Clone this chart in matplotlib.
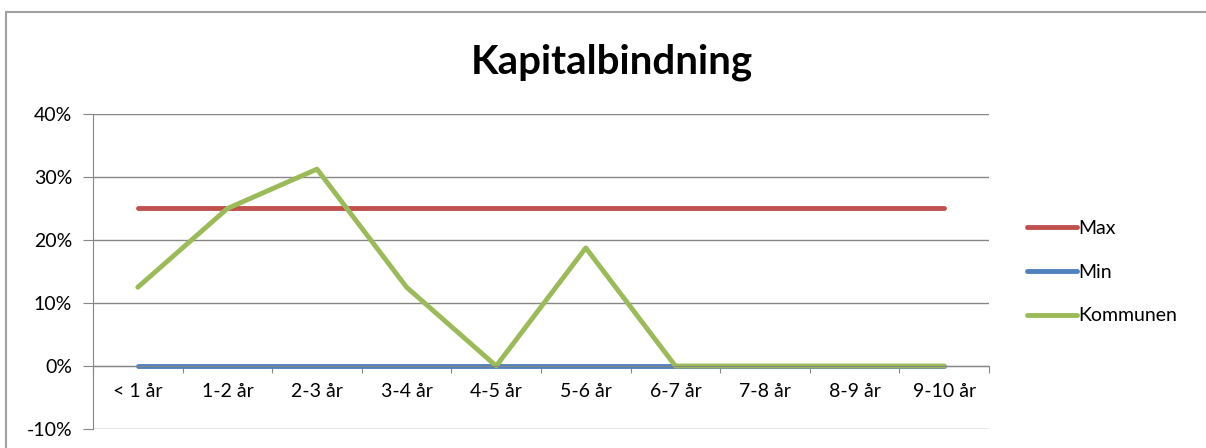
import matplotlib.pyplot as plt
from matplotlib.patches import Rectangle
from matplotlib.ticker import FixedLocator, PercentFormatter

categories = ["< 1 år", "1-2 år", "2-3 år", "3-4 år", "4-5 år",
              "5-6 år", "6-7 år", "7-8 år", "8-9 år", "9-10 år"]
max_values = [25, 25, 25, 25, 25, 25, 25, 25, 25, 25]
min_values = [0, 0, 0, 0, 0, 0, 0, 0, 0, 0]
kommunen_values = [12.5, 25, 31.25, 12.5, 0, 18.75, 0, 0, 0, 0]
y_ticks = [-10, 0, 10, 20, 30, 40]

plt.rcParams['font.family'] = ['Lato', 'DejaVu Sans']
plt.rcParams['axes.unicode_minus'] = False
GRID = "#868686"

fig = plt.figure(figsize=(12.06, 4.48), dpi=100)

# outer chart border (Excel chart area)
fig.patches.append(Rectangle((6 / 1206, -0.1), 1.2, 1 - 12 / 448 + 0.1,
                             transform=fig.transFigure, fill=False,
                             edgecolor="#a0a0a0", linewidth=1.5))

ax = fig.add_axes([93 / 1206, 1 - 429 / 448, 896 / 1206, 315 / 448])

x = [i + 0.5 for i in range(len(categories))]
ax.plot(x, max_values, color="#C0504D", lw=3.5, solid_capstyle="round", label="Max")
ax.plot(x, min_values, color="#4F81BD", lw=3.5, solid_capstyle="round", label="Min")
ax.plot(x, kommunen_values, color="#9BBB59", lw=3.5, solid_capstyle="round",
        solid_joinstyle="round", label="Kommunen")

ax.set_xlim(0, len(categories))
ax.set_ylim(-10, 40)
ax.set_yticks(y_ticks)
ax.yaxis.set_major_formatter(PercentFormatter(decimals=0))
ax.grid(axis="y", color=GRID, linewidth=1)
ax.set_axisbelow(True)

ax.spines["top"].set_visible(False)
ax.spines["right"].set_visible(False)
ax.spines["left"].set_color(GRID)
ax.spines["bottom"].set_position(("data", 0))
ax.spines["bottom"].set_color(GRID)

ax.xaxis.set_major_locator(FixedLocator(range(len(categories) + 1)))
ax.xaxis.set_minor_locator(FixedLocator(x))
ax.set_xticklabels([], minor=False)
ax.set_xticklabels(categories, minor=True)
ax.tick_params(axis="x", which="major", length=5, color=GRID, direction="out")
ax.tick_params(axis="x", which="minor", length=0, pad=12, labelsize=14)
ax.tick_params(axis="y", length=7, color=GRID, labelsize=14, pad=8)

fig.text(612 / 1206, 1 - 62 / 448, "Kapitalbindning", ha="center", va="center",
         fontsize=29, fontweight="bold")

fig.legend(loc="center left", bbox_to_anchor=(1009 / 1206, 1 - 272 / 448),
           frameon=False, fontsize=14, handlelength=2.6, handletextpad=0.05,
           labelspacing=1.38)

fig.savefig("out.png", dpi=100)
